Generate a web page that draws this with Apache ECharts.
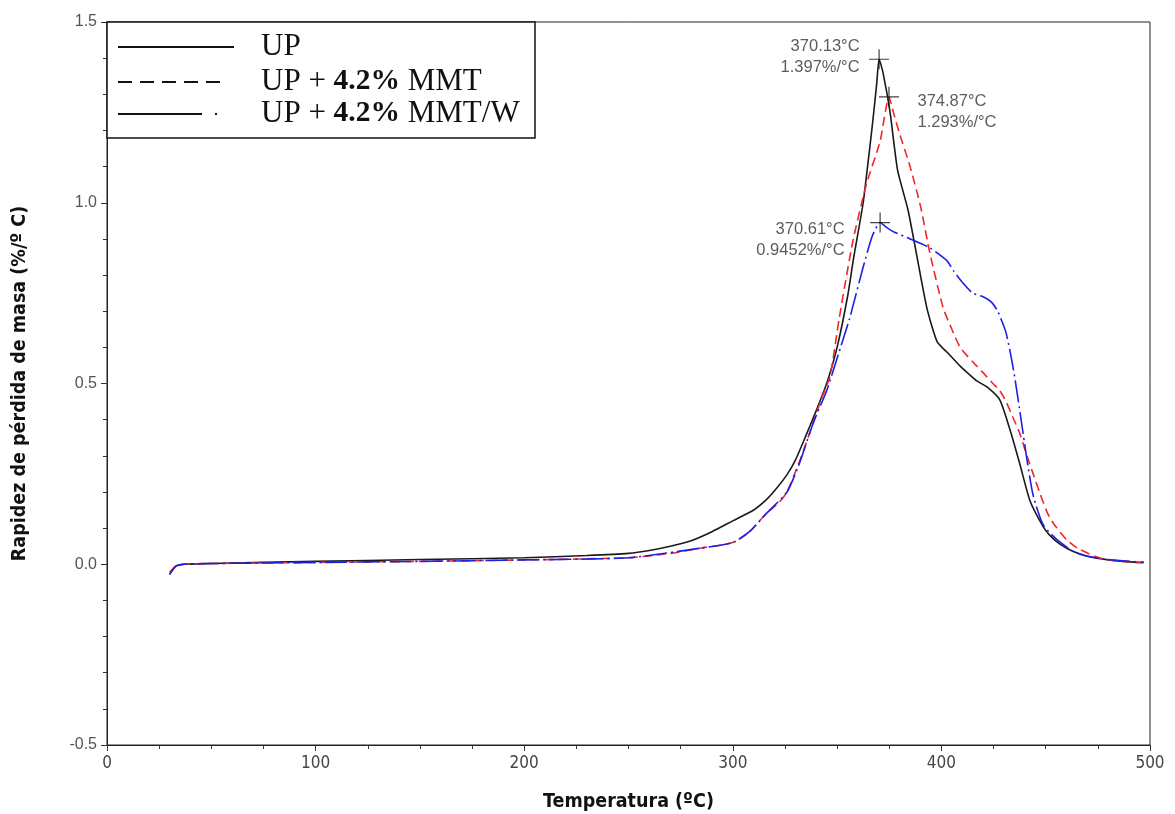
<!DOCTYPE html>
<html><head><meta charset="utf-8">
<script src="https://cdn.jsdelivr.net/npm/echarts@6/dist/echarts.min.js"></script>
<style>html,body{margin:0;padding:0;background:#fff}#c{width:1175px;height:814px}</style>
</head><body><div id="c"></div>
<script>
// ---- data ----
const seriesNames = ['UP', 'UP + 4.2% MMT', 'UP + 4.2% MMT/W'];
const upT = [30, 33, 37, 50, 100, 150, 200, 230, 250, 260, 270, 280, 290, 300, 310, 316, 320, 326, 330, 335, 340, 345, 350, 355, 358, 362.5, 365, 367, 369, 370.13, 372, 375.4, 379, 384, 388, 393, 398, 403, 409, 413, 417, 422, 428, 433, 437.7, 442.5, 448.7, 452, 457, 463, 470, 480, 492, 497];
const upV = [-0.028, -0.005, 0, 0.002, 0.008, 0.013, 0.018, 0.024, 0.03, 0.038, 0.05, 0.065, 0.09, 0.12, 0.15, 0.178, 0.203, 0.248, 0.288, 0.355, 0.425, 0.5, 0.6, 0.74, 0.85, 1.0, 1.12, 1.22, 1.33, 1.397, 1.36, 1.25, 1.09, 0.98, 0.86, 0.71, 0.615, 0.585, 0.548, 0.527, 0.507, 0.49, 0.455, 0.37, 0.275, 0.175, 0.105, 0.08, 0.055, 0.036, 0.022, 0.012, 0.006, 0.005];
const mmtT = [30, 33, 37, 50, 100, 150, 200, 250, 270, 285, 300, 308, 316, 322, 326, 332, 338.5, 342, 346.6, 351, 357.6, 364, 370.6, 374.87, 377, 380, 385, 390, 394.5, 400.8, 405, 409, 415, 420, 424.7, 428, 431, 434, 437.7, 441, 444, 447, 450.6, 453.5, 460, 466, 476, 486, 496.6];
const mmtV = [-0.022, -0.005, 0, 0.002, 0.005, 0.008, 0.012, 0.018, 0.03, 0.045, 0.06, 0.09, 0.14, 0.17, 0.2, 0.285, 0.39, 0.45, 0.52, 0.68, 0.895, 1.05, 1.17, 1.293, 1.25, 1.19, 1.10, 0.99, 0.86, 0.71, 0.65, 0.6, 0.56, 0.53, 0.5, 0.48, 0.45, 0.41, 0.36, 0.3, 0.25, 0.2, 0.145, 0.115, 0.068, 0.042, 0.017, 0.008, 0.004];
const mmtwT = [30, 33, 37, 50, 100, 150, 200, 250, 285, 300, 308, 316, 326, 332, 338.5, 345, 350, 356, 362.4, 367, 370.61, 373, 377, 385, 394.5, 402.6, 406, 410, 415, 420, 424, 427, 431, 434.5, 437.7, 441, 444, 448.7, 455, 463, 470, 480, 490, 497];
const mmtwV = [-0.028, -0.006, 0, 0.002, 0.005, 0.008, 0.012, 0.018, 0.045, 0.06, 0.09, 0.14, 0.2, 0.28, 0.39, 0.48, 0.57, 0.68, 0.82, 0.91, 0.9452, 0.935, 0.92, 0.9, 0.875, 0.84, 0.81, 0.78, 0.75, 0.74, 0.725, 0.70, 0.64, 0.54, 0.42, 0.29, 0.19, 0.11, 0.07, 0.036, 0.022, 0.013, 0.008, 0.006];
const peakT = [370.13, 374.87, 370.61];
const peakV = [1.397, 1.293, 0.9452];
const peakLabels = ['370.13°C\n1.397%/°C', '374.87°C\n1.293%/°C', '370.61°C\n0.9452%/°C'];
const xTicks = [0, 100, 200, 300, 400, 500];
const yTicks = [-0.5, 0.0, 0.5, 1.0, 1.5];

// ---- chart ----
const pair = (t, v) => t.map((x, i) => [x, v[i]]);
const chart = echarts.init(document.getElementById('c'), null, {renderer: 'canvas'});
const NARROW = '"Liberation Sans Narrow", "DejaVu Sans Condensed", "Arial Narrow", sans-serif';
const G = {left: 107, top: 22, right: 25, bottom: 69};
const crossPath = 'path://M0,10L20,10M10,0L10,20';
const labelCfg = [
  {position: 'left', distance: 7, offset: [0, -2], align: 'right'},
  {position: 'right', distance: 16, offset: [0, 15], align: 'left'},
  {position: 'left', distance: 23, offset: [0, 17], align: 'right'}
];
const legendRows = [
  {y: 47, x2: 234, dash: null, text: [{t: 'UP', b: false}]},
  {y: 82, x2: 222, dash: [14, 8], text: [{t: 'UP + ', b: false}, {t: '4.2%', b: true}, {t: ' MMT', b: false}]},
  {y: 114, x2: 217, dash: [84, 13, 2, 200], text: [{t: 'UP + ', b: false}, {t: '4.2%', b: true}, {t: ' MMT/W', b: false}]}
];
const graphics = [{
  type: 'rect', shape: {x: 107, y: 22, width: 428, height: 116},
  style: {fill: '#fff', stroke: '#111', lineWidth: 1.5}, z: 100
}];
legendRows.forEach(r => {
  graphics.push({type: 'line', shape: {x1: 118, y1: r.y, x2: r.x2, y2: r.y},
    style: {stroke: '#111', lineWidth: 2, lineDash: r.dash || null}, z: 101});
  graphics.push({type: 'text', left: 261, top: r.y - 16, z: 101,
    style: {
      text: r.text.map(p => p.b ? '{b|' + p.t + '}' : '{n|' + p.t + '}').join(''),
      rich: {
        n: {fontFamily: 'Liberation Serif', fontSize: 31, fill: '#111', lineHeight: 34},
        b: {fontFamily: 'Liberation Serif', fontSize: 29.5, fontWeight: 'bold', fill: '#111', lineHeight: 34}
      }
    }});
});
const option = {
  animation: false,
  backgroundColor: '#fff',
  grid: {left: G.left, top: G.top, right: G.right, bottom: G.bottom, show: true, borderColor: '#222', borderWidth: 1,
    containLabel: false, outerBoundsMode: 'none'},
  xAxis: {
    type: 'value', min: xTicks[0], max: xTicks[xTicks.length - 1], interval: 100,
    name: 'Temperatura (ºC)', nameLocation: 'middle', nameGap: 47,
    nameTextStyle: {fontFamily: NARROW, fontWeight: 'bold', fontSize: 19.5, color: '#111'},
    axisLine: {onZero: false, lineStyle: {color: '#222', width: 1}},
    axisTick: {show: true, length: 6, lineStyle: {color: '#333'}},
    minorTick: {show: true, splitNumber: 4, length: 4, lineStyle: {color: '#333'}},
    splitLine: {show: false},
    axisLabel: {fontFamily: NARROW, fontSize: 17, color: '#444', margin: 10}
  },
  yAxis: {
    type: 'value', min: yTicks[0], max: yTicks[yTicks.length - 1], interval: 0.5,
    name: 'Rapidez de pérdida de masa (%/º C)', nameLocation: 'middle', nameGap: 77, nameRotate: 90,
    nameTextStyle: {fontFamily: NARROW, fontWeight: 'bold', fontSize: 19.5, color: '#111'},
    axisLine: {show: true, onZero: false, lineStyle: {color: '#222', width: 1}},
    axisTick: {show: true, length: 6, lineStyle: {color: '#333'}},
    minorTick: {show: true, splitNumber: 5, length: 4, lineStyle: {color: '#333'}},
    splitLine: {show: false},
    axisLabel: {fontFamily: 'Liberation Sans', fontSize: 16, color: '#555', margin: 10, formatter: v => v.toFixed(1)}
  },
  series: [
    {name: seriesNames[0], type: 'line', data: pair(upT, upV), showSymbol: false, smooth: 0.2,
      lineStyle: {color: '#1a1a1a', width: 1.6}, z: 3},
    {name: seriesNames[1], type: 'line', data: pair(mmtT, mmtV), showSymbol: false, smooth: 0.2,
      lineStyle: {color: '#f02828', width: 1.6, type: [9, 5]}, z: 4},
    {name: seriesNames[2], type: 'line', data: pair(mmtwT, mmtwV), showSymbol: false, smooth: 0.2,
      lineStyle: {color: '#1e1ee6', width: 1.6, type: [22, 4, 2, 4]}, z: 5},
    {name: 'peaks', type: 'scatter', symbol: crossPath, symbolSize: 20, z: 10,
      itemStyle: {color: 'none', borderColor: '#111', borderWidth: 1.2},
      data: peakT.map((t, i) => ({
        value: [t, peakV[i]],
        label: Object.assign({show: true, formatter: peakLabels[i], fontFamily: 'Liberation Sans', fontSize: 16.5,
          color: '#333', lineHeight: 21}, labelCfg[i])
      }))}
  ],
  graphic: graphics
};
chart.setOption(option);
</script></body></html>
